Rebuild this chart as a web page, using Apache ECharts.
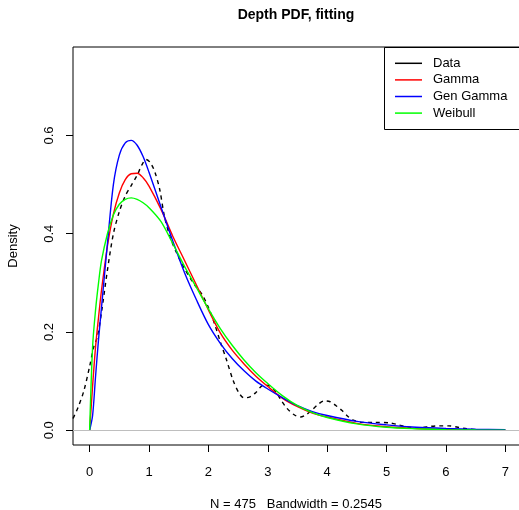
<!DOCTYPE html>
<html>
<head>
<meta charset="utf-8">
<script src="https://cdn.jsdelivr.net/npm/echarts@6/dist/echarts.min.js"></script>
<style>
  html, body { margin: 0; padding: 0; background: #fff; }
  #main { width: 519px; height: 510px; }
</style>
</head>
<body>
<div id="main"></div>
<script>
// tick positions
const xTicks = [0, 1, 2, 3, 4, 5, 6, 7]
const yTicks = [0, 0.2, 0.4, 0.6]

// kernel density of the data (dashed line)
const dataX = [-0.28, -0.2, -0.1, 0, 0.07, 0.13, 0.2, 0.3, 0.4, 0.5, 0.6, 0.7, 0.8, 0.88, 0.95, 1.02, 1.1, 1.18, 1.26, 1.35, 1.45, 1.58, 1.75, 1.9, 2.0, 2.1, 2.2, 2.3, 2.42, 2.52, 2.6, 2.7, 2.8, 2.93, 3.02, 3.13, 3.22, 3.32, 3.45, 3.55, 3.65, 3.75, 3.85, 3.95, 4.05, 4.15, 4.25, 4.35, 4.45, 4.6, 4.8, 5.05, 5.2, 5.35, 5.55, 5.75, 5.9, 6.05, 6.2, 6.35, 6.5, 6.7]
const dataY = [0.024, 0.045, 0.079, 0.13, 0.17, 0.19, 0.24, 0.326, 0.40, 0.445, 0.477, 0.498, 0.519, 0.54, 0.551, 0.545, 0.525, 0.49, 0.435, 0.395, 0.365, 0.333, 0.299, 0.275, 0.25, 0.218, 0.18, 0.145, 0.1, 0.075, 0.066, 0.068, 0.077, 0.092, 0.091, 0.079, 0.062, 0.045, 0.031, 0.027, 0.032, 0.042, 0.053, 0.06, 0.058, 0.05, 0.04, 0.028, 0.02, 0.016, 0.016, 0.015, 0.011, 0.0065, 0.005, 0.008, 0.009, 0.009, 0.006, 0.003, 0.001, 0.0002]

// fitted densities
const fitX = [0, 0.05, 0.1, 0.15, 0.2, 0.3, 0.4, 0.5, 0.6, 0.7, 0.8, 0.9, 1.0, 1.2, 1.4, 1.6, 1.8, 2.0, 2.2, 2.4, 2.6, 2.8, 3.0, 3.25, 3.5, 3.75, 4.0, 4.5, 5.0, 5.5, 6.0, 6.5, 7.0]
const gammaY = [0, 0.09, 0.17, 0.23, 0.285, 0.375, 0.44, 0.483, 0.51, 0.522, 0.523, 0.514, 0.497, 0.45, 0.395, 0.345, 0.295, 0.245, 0.198, 0.163, 0.135, 0.11, 0.089, 0.065, 0.048, 0.035, 0.027, 0.014, 0.007, 0.0035, 0.0017, 0.0008, 0.0004]
const genGammaY = [0, 0.03, 0.11, 0.185, 0.25, 0.38, 0.5, 0.56, 0.585, 0.59, 0.58, 0.557, 0.525, 0.455, 0.385, 0.32, 0.265, 0.215, 0.177, 0.146, 0.121, 0.1, 0.084, 0.066, 0.05, 0.038, 0.03, 0.018, 0.011, 0.006, 0.0035, 0.002, 0.001]
const weibullY = [0, 0.17, 0.245, 0.30, 0.345, 0.40, 0.438, 0.46, 0.47, 0.473, 0.47, 0.463, 0.453, 0.425, 0.38, 0.333, 0.29, 0.247, 0.207, 0.173, 0.143, 0.117, 0.095, 0.07, 0.05, 0.036, 0.026, 0.013, 0.006, 0.003, 0.0012, 0.0005, 0.0002]

const font = 'Liberation Sans, Arial, sans-serif'
const pair = (xs, ys) => xs.map((x, i) => [x, ys[i]])

const chart = echarts.init(document.getElementById('main'), null, { renderer: 'canvas' })

const lineSeries = (name, xs, ys, color, dashed) => ({
  name: name,
  type: 'line',
  data: pair(xs, ys),
  showSymbol: false,
  smooth: 0.3,
  animation: false,
  lineStyle: { color: color, width: 1.4, type: dashed ? [4, 4] : 'solid' },
  itemStyle: { color: color }
})

const option = {
  animation: false,
  grid: {
    left: 73,
    top: 47,
    width: 449,
    height: 398,
    outerBoundsMode: 'none',
    show: true,
    borderColor: '#000',
    borderWidth: 1,
    backgroundColor: 'transparent'
  },
  xAxis: {
    type: 'value',
    min: -0.28,
    max: 7.28,
    axisLine: { show: false, onZero: false },
    splitLine: { show: false },
    axisTick: { show: true, customValues: xTicks, length: 7, lineStyle: { color: '#000' } },
    axisLabel: { customValues: xTicks, margin: 21, color: '#000', fontSize: 13, fontFamily: font }
  },
  yAxis: {
    type: 'value',
    min: -0.03,
    max: 0.78,
    axisLine: { show: false, onZero: false },
    splitLine: { show: false },
    axisTick: { show: true, customValues: yTicks, length: 7, lineStyle: { color: '#000' } },
    axisLabel: {
      customValues: yTicks,
      rotate: 90,
      margin: 17,
      color: '#000',
      fontSize: 13,
      fontFamily: font,
      formatter: v => v.toFixed(1)
    }
  },
  legend: {
    orient: 'vertical',
    left: 384,
    top: 47,
    padding: [8, 10, 8, 11],
    itemGap: 0,
    itemWidth: 27,
    itemHeight: 1.5,
    icon: 'rect',
    data: ['Data', 'Gamma', 'Gen Gamma', 'Weibull'],
    textStyle: { color: '#000', fontSize: 13, fontFamily: font, lineHeight: 16.6, padding: [0, 0, 0, 6] }
  },
  graphic: [
    {
      // legend frame, runs off the right edge like the original
      type: 'rect',
      shape: { x: 384.5, y: 47.5, width: 200, height: 82 },
      style: { fill: 'none', stroke: '#000', lineWidth: 1 },
      silent: true
    },
    {
      type: 'text',
      style: { text: 'Depth PDF, fitting', x: 296, y: 15, align: 'center', verticalAlign: 'middle', font: 'bold 14px ' + font, fill: '#000' }
    },
    {
      type: 'text',
      style: { text: 'N = 475   Bandwidth = 0.2545', x: 296, y: 504, align: 'center', verticalAlign: 'middle', font: '13px ' + font, fill: '#000' }
    },
    {
      type: 'text',
      x: 13,
      y: 246,
      rotation: Math.PI / 2,
      style: { text: 'Density', x: 0, y: 0, align: 'center', verticalAlign: 'middle', font: '13px ' + font, fill: '#000' }
    }
  ],
  series: [
    Object.assign(lineSeries('Data', dataX, dataY, '#000', true), {
      markLine: {
        silent: true,
        symbol: 'none',
        label: { show: false },
        lineStyle: { color: '#bebebe', width: 1, type: 'solid' },
        data: [{ yAxis: 0 }]
      }
    }),
    lineSeries('Gamma', fitX, gammaY, '#ff0000', false),
    lineSeries('Gen Gamma', fitX, genGammaY, '#0000ff', false),
    lineSeries('Weibull', fitX, weibullY, '#00ff00', false)
  ]
}

chart.setOption(option)
</script>
</body>
</html>
